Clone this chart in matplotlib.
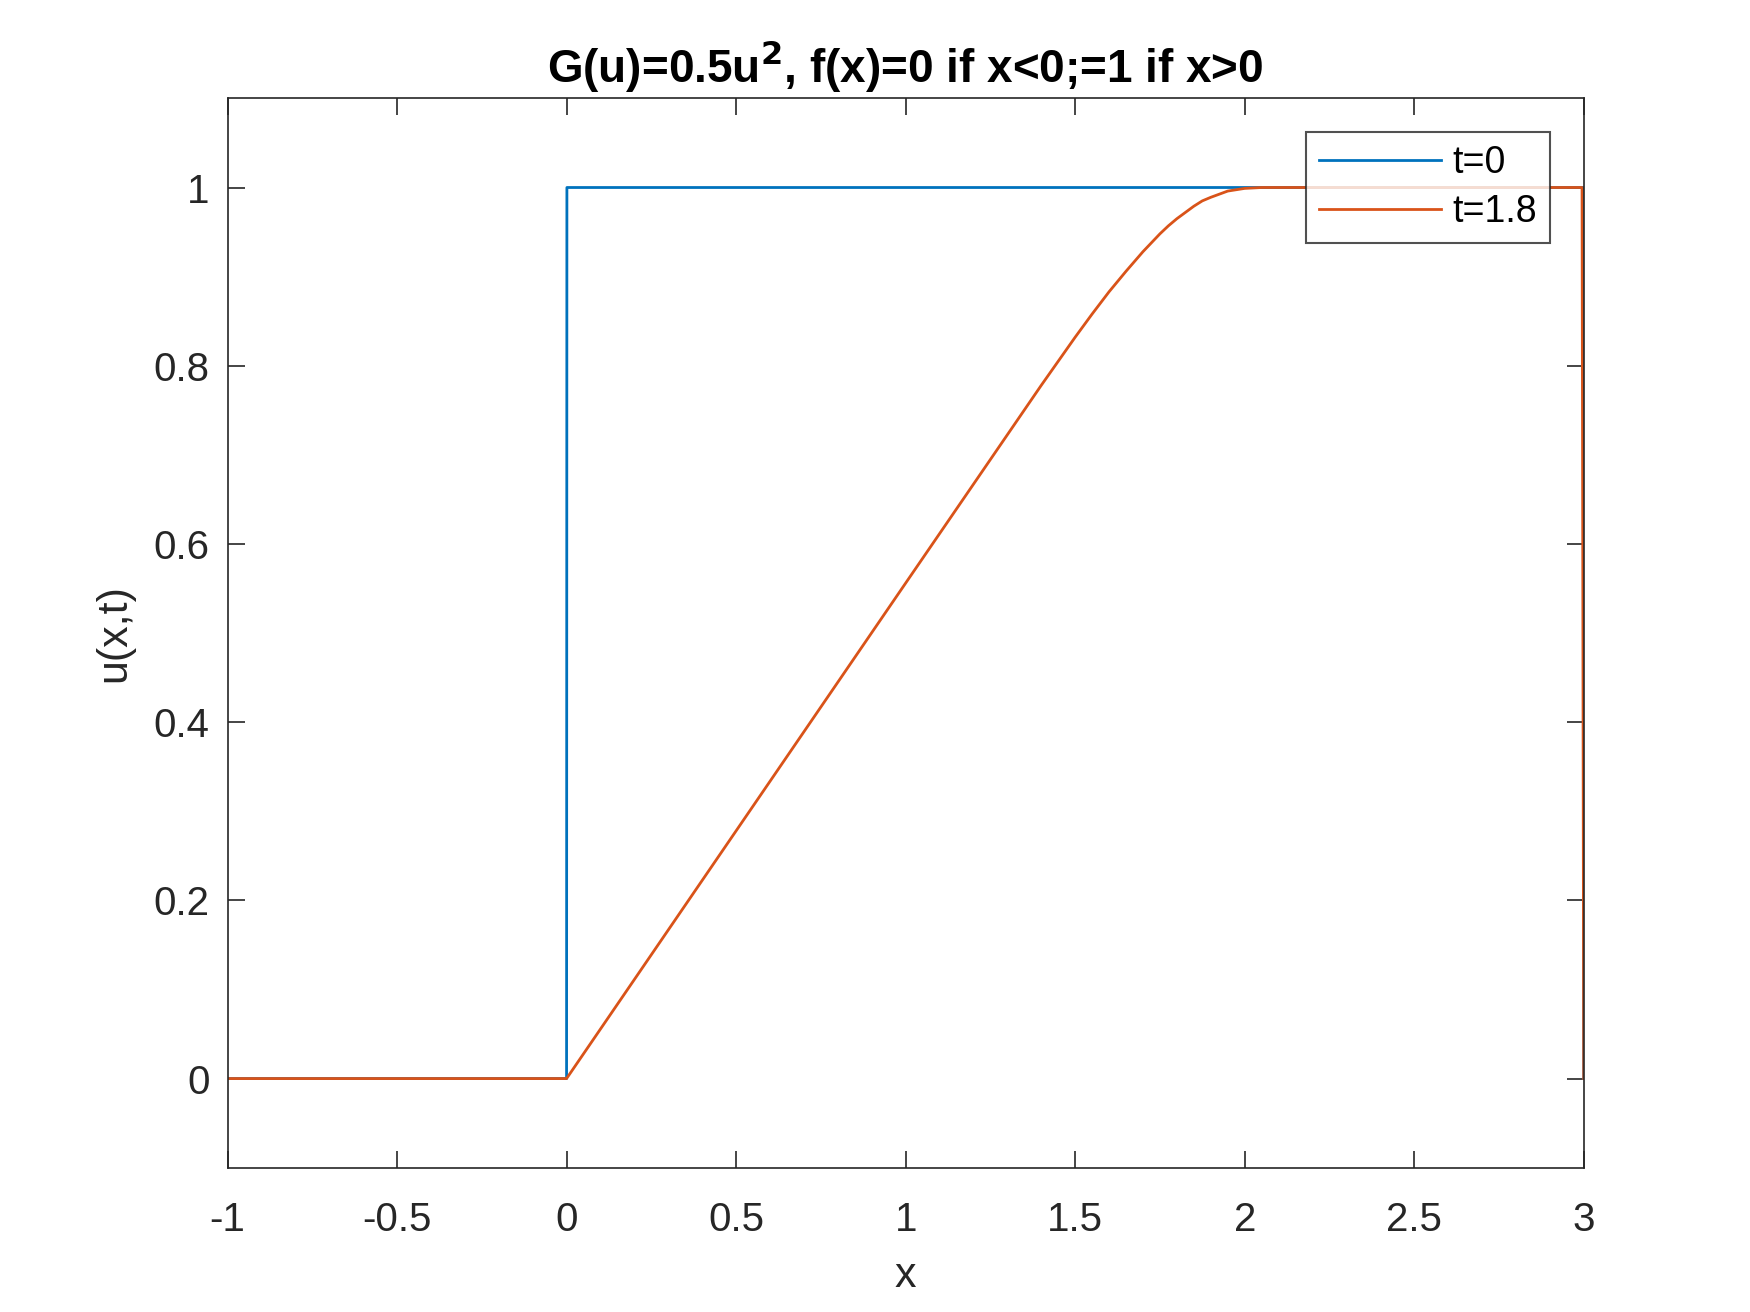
import matplotlib
matplotlib.use("Agg")
import matplotlib.pyplot as plt

# t = 0 initial condition (step)
x_t0 = [-1.0, 0.0, 0.001, 2.999, 3.0]
u_t0 = [0.0, 0.0, 1.0, 1.0, 0.0]

# t = 1.8 numerical solution (rarefaction fan, smoothed corner)
x_t18 = [-1.0, 0.0, 0.5, 1.0, 1.4, 1.45, 1.5, 1.55, 1.6, 1.65, 1.7, 1.725, 1.75,
         1.775, 1.8, 1.825, 1.85, 1.875, 1.9, 1.95, 2.0, 2.05, 2.1, 2.995, 3.0]
u_t18 = [0.0, 0.0, 0.278, 0.556, 0.778, 0.805, 0.832, 0.858, 0.883, 0.906, 0.928,
         0.938, 0.948, 0.957, 0.965, 0.972, 0.979, 0.985, 0.989, 0.996, 0.999,
         1.0, 1.0, 1.0, 0.0]

labels = ["t=0", "t=1.8"]
xticks = [-1, -0.5, 0, 0.5, 1, 1.5, 2, 2.5, 3]
xticklabels = ["-1", "-0.5", "0", "0.5", "1", "1.5", "2", "2.5", "3"]
yticks = [0, 0.2, 0.4, 0.6, 0.8, 1]
yticklabels = ["0", "0.2", "0.4", "0.6", "0.8", "1"]

plt.rcParams['font.family'] = ['Liberation Sans', 'DejaVu Sans']
axcol = '#262626'

fig = plt.figure(figsize=(17.5, 13.12), dpi=100)
ax = fig.add_axes([0.13, 0.11, 0.775, 0.815])
ax.plot(x_t0, u_t0, color='#0072BD', lw=2.0, label=labels[0])
ax.plot(x_t18, u_t18, color='#D95319', lw=2.0, label=labels[1])
ax.set_xlim(-1, 3)
ax.set_ylim(-0.1, 1.1)
ax.set_xticks(xticks)
ax.set_xticklabels(xticklabels)
ax.set_yticks(yticks)
ax.set_yticklabels(yticklabels)
ax.tick_params(direction='in', length=12, width=1.2, colors=axcol, labelsize=29,
               top=True, right=True)
ax.tick_params(axis='x', pad=24)
ax.tick_params(axis='y', pad=13)
for s in ax.spines.values():
    s.set_color(axcol)
    s.set_linewidth(1.2)
ax.set_xlabel('x', fontsize=31, color=axcol, labelpad=12)
ax.set_ylabel('u(x,t)', fontsize=31, color=axcol, labelpad=14)
ax.set_title('G(u)=0.5u$^{\\mathbf{2}}$, f(x)=0 if x<0;=1 if x>0', fontsize=33,
             fontweight='bold', pad=12)
leg = ax.legend(loc='upper right', fontsize=27, handlelength=3.25, frameon=True,
                fancybox=False, borderpad=0.35, bbox_to_anchor=(0.975, 0.969),
                handletextpad=0.3, labelspacing=0.36, borderaxespad=0.0)
leg.get_frame().set_edgecolor(axcol)
leg.get_frame().set_linewidth(1.5)
fig.savefig('out.png', dpi=100, facecolor='white')
